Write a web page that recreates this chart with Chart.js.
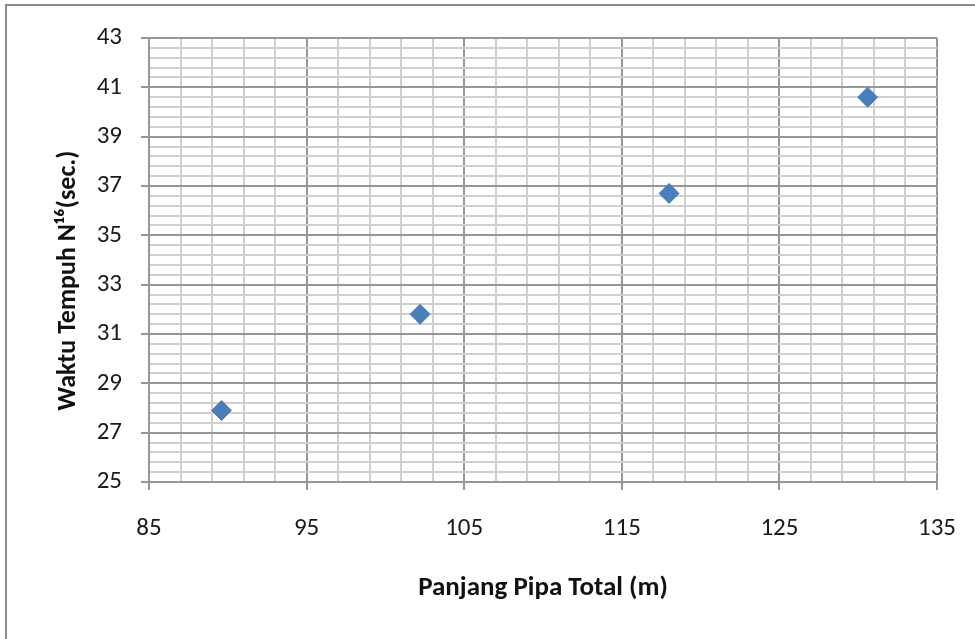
<!DOCTYPE html>
<html>
<head>
<meta charset="utf-8">
<script src="https://cdn.jsdelivr.net/npm/chart.js@4"></script>
<style>
  html, body { margin: 0; padding: 0; background: #fff; overflow: hidden; }
  #wrap { width: 975px; height: 639px; position: relative; }
</style>
</head>
<body>
<div id="wrap"><canvas id="scatterChart"></canvas></div>
<script>
"use strict";

// values
const pipeLength = [89.6, 102.2, 118.0, 130.6];
const travelTime = [27.9, 31.8, 36.7, 40.6];

// major tick labels on each axis
const xTickLabels = [85, 95, 105, 115, 125, 135];
const yTickLabels = [25, 27, 29, 31, 33, 35, 37, 39, 41, 43];
const minorDivisions = 5;

const majorColor = "#979797";
const minorColor = "#cfcfcf";
const fontFamily = "Carlito, 'Open Sans', sans-serif";

// major ticks plus 4 minor lines between each pair
function withMinor(majors) {
  const out = [];
  for (let i = 0; i < majors.length; i++) {
    out.push({ value: majors[i], major: true });
    if (i < majors.length - 1) {
      const step = (majors[i + 1] - majors[i]) / minorDivisions;
      for (let k = 1; k < minorDivisions; k++) {
        out.push({ value: majors[i] + k * step, major: false });
      }
    }
  }
  return out;
}

const isMajor = (ctx) => ctx.tick && ctx.tick.major;

// outer frame of the chart box
const framePlugin = {
  id: "frame",
  afterDraw(chart) {
    const c = chart.ctx;
    c.save();
    c.strokeStyle = "#8a8a8a";
    c.lineWidth = 2;
    c.beginPath();
    c.moveTo(6, 639);
    c.lineTo(6, 5);
    c.lineTo(975, 5);
    c.stroke();
    c.restore();
  },
};

const chart = new Chart(document.getElementById("scatterChart"), {
  type: "scatter",
  data: {
    datasets: [
      {
        data: pipeLength.map((x, i) => ({ x: x, y: travelTime[i] })),
        pointStyle: "rectRot",
        pointRadius: 10,
        pointHoverRadius: 10,
        backgroundColor: "#4A7EBB",
        borderColor: "#4A7EBB",
        borderWidth: 1,
      },
    ],
  },
  options: {
    responsive: true,
    maintainAspectRatio: false,
    animation: false,
    layout: { padding: { left: 0, top: 38, right: 38, bottom: 0 } },
    plugins: {
      legend: { display: false },
      tooltip: { enabled: false },
    },
    scales: {
      x: {
        type: "linear",
        min: xTickLabels[0],
        max: xTickLabels[xTickLabels.length - 1],
        afterBuildTicks: (scale) => { scale.ticks = withMinor(xTickLabels); },
        afterFit: (scale) => {
          scale.height = 157;
          scale.paddingRight = 0;
          scale.paddingLeft = 0;
        },
        grid: {
          color: (ctx) => (isMajor(ctx) ? majorColor : minorColor),
          tickColor: (ctx) => (isMajor(ctx) ? majorColor : "rgba(0,0,0,0)"),
          tickLength: 8,
          lineWidth: 2,
        },
        border: { color: majorColor, width: 2 },
        ticks: {
          autoSkip: false,
          maxRotation: 0,
          padding: 24,
          color: "#1a1a1a",
          font: { family: fontFamily, size: 25 },
          callback: function (value, index, ticks) {
            return ticks[index].major ? String(value) : "";
          },
        },
        title: {
          display: true,
          text: "Panjang Pipa Total (m)",
          color: "#111",
          font: { family: fontFamily, size: 27, weight: "bold" },
          padding: { top: 0, bottom: 35 },
        },
      },
      y: {
        type: "linear",
        min: yTickLabels[0],
        max: yTickLabels[yTickLabels.length - 1],
        afterBuildTicks: (scale) => { scale.ticks = withMinor(yTickLabels); },
        afterFit: (scale) => { scale.width = 149; },
        grid: {
          color: (ctx) => (isMajor(ctx) ? majorColor : minorColor),
          tickColor: (ctx) => (isMajor(ctx) ? majorColor : "rgba(0,0,0,0)"),
          tickLength: 8,
          lineWidth: 2,
        },
        border: { color: majorColor, width: 2 },
        ticks: {
          autoSkip: false,
          padding: 19,
          color: "#1a1a1a",
          font: { family: fontFamily, size: 25 },
          callback: function (value, index, ticks) {
            return ticks[index].major ? String(value) : "";
          },
        },
        title: {
          display: true,
          // trailing spaces push the rotated title down a little, as in the original
          text: "Waktu Tempuh N\u00B9\u2076(sec.)\u00A0\u00A0\u00A0\u00A0\u00A0\u00A0\u00A0",
          color: "#111",
          font: { family: fontFamily, size: 26, weight: "bold" },
          padding: { top: 53, bottom: 0 },
        },
      },
    },
  },
  plugins: [framePlugin],
});
</script>
</body>
</html>
